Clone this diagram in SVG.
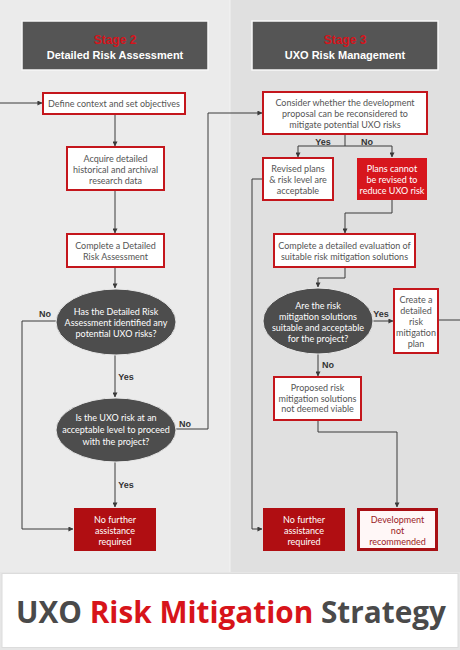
<svg xmlns="http://www.w3.org/2000/svg" width="460" height="650" viewBox="0 0 460 650">
<defs>
<marker id="ah" viewBox="0 0 6 6" refX="5.5" refY="3" markerWidth="5" markerHeight="5" orient="auto">
<path d="M0,0 L6,3 L0,6 z" fill="#3a3a3a"/>
</marker>
<style>
.bg1{fill:#ebebeb}
.bg2{fill:#e0e0e0}
.hdr{fill:#555555;stroke:#f7f7f7;stroke-width:1.5}
.stage{font-family:"Liberation Sans",Arial,sans-serif;font-weight:bold;font-size:12px;fill:#d4141c;text-anchor:middle}
.title{font-family:"Liberation Sans",Arial,sans-serif;font-weight:bold;font-size:11px;fill:#ffffff;text-anchor:middle}
.box{fill:#ffffff;stroke:#c4161c;stroke-width:2}
.boxr{fill:#d7161d}
.boxd{fill:#b00e12}
.boxdev{fill:#fff7f7;stroke:#a80f14;stroke-width:3}
.ell{fill:#4d4d4d;stroke:#e8e8e8;stroke-width:1}
.t{font-family:Lato,"Open Sans",sans-serif;font-size:9px;fill:#555555;text-anchor:middle}
.tw{font-family:Lato,"Open Sans",sans-serif;font-size:9px;fill:#ffffff;text-anchor:middle}
.tdr{font-family:Lato,"Open Sans",sans-serif;font-size:9px;fill:#9a1a1f;text-anchor:middle}
.lbl{font-family:"Liberation Sans",Arial,sans-serif;font-weight:bold;font-size:9px;fill:#333333;text-anchor:middle}
.c{fill:none;stroke:#3a3a3a;stroke-width:1}
.ca{fill:none;stroke:#3a3a3a;stroke-width:1;marker-end:url(#ah)}
.big{font-family:"Open Sans","Liberation Sans",sans-serif;font-weight:bold;font-size:30px}
</style>
</defs>

<rect x="0" y="0" width="230" height="572" class="bg1"/>
<rect x="230" y="0" width="230" height="572" class="bg2"/>
<line x1="230" y1="0" x2="230" y2="572" stroke="#f2f2f2" stroke-width="1"/>
<rect x="0" y="572" width="460" height="78" fill="#e6e6e6"/>
<rect x="2" y="573.5" width="456" height="74" fill="#ffffff" stroke="#dcdcdc" stroke-width="1"/>

<g id="header-stage2">
<rect x="22" y="21" width="186" height="49" class="hdr"/>
<text x="115" y="44" class="stage">Stage 2</text>
<text x="115" y="58.5" class="title">Detailed Risk Assessment</text>
</g>
<g id="header-stage3">
<rect x="252" y="21" width="186" height="49" class="hdr"/>
<text x="345" y="44" class="stage">Stage 3</text>
<text x="345" y="58.5" class="title">UXO Risk Management</text>
</g>

<g id="connectors">
<path d="M0,103 H42" class="ca"/>
<path d="M115,114 V146" class="ca"/>
<path d="M115,190 V233" class="ca"/>
<path d="M115,267 V288" class="ca"/>
<path d="M115,355 V397" class="ca"/>
<path d="M115,462 V507" class="ca"/>
<path d="M56,321 H22 V529 H73" class="ca"/>
<path d="M176,429 H208 V113 H262" class="ca"/>
<path d="M345,134 V146" class="c"/>
<path d="M298,146 H392" class="c"/>
<path d="M298,146 V157" class="ca"/>
<path d="M392,146 V157" class="ca"/>
<path d="M392,200 V213 H345 V233" class="ca"/>
<path d="M345,267 V278 H318 V287" class="ca"/>
<path d="M263,179 H252 V529 H262" class="ca"/>
<path d="M373,321 H393" class="ca"/>
<path d="M438,320 H460" class="c"/>
<path d="M318,354 V376" class="ca"/>
<path d="M318,420 V432 H397 V507" class="ca"/>
<text x="45" y="317" class="lbl">No</text>
<text x="126" y="380" class="lbl">Yes</text>
<text x="185" y="427" class="lbl">No</text>
<text x="126" y="488" class="lbl">Yes</text>
<text x="323" y="145" class="lbl">Yes</text>
<text x="367" y="145" class="lbl">No</text>
<text x="381" y="317" class="lbl">Yes</text>
<text x="328" y="368" class="lbl">No</text>
</g>

<g id="define">
<rect x="43" y="93" width="142" height="21" class="box"/>
<text x="114" y="106.5" class="t">Define context and set objectives</text>
</g>
<g id="acquire">
<rect x="67" y="147" width="97" height="43" class="box"/>
<text x="115.5" y="161.5" class="t">Acquire detailed</text>
<text x="115.5" y="172.5" class="t">historical and archival</text>
<text x="115.5" y="183.5" class="t">research data</text>
</g>
<g id="complete-dra">
<rect x="67" y="234" width="97" height="33" class="box"/>
<text x="115.5" y="249" class="t">Complete a Detailed</text>
<text x="115.5" y="260" class="t">Risk Assessment</text>
</g>
<g id="q-identified">
<ellipse cx="116" cy="322" rx="60" ry="33" class="ell"/>
<text x="116" y="315" class="tw">Has the Detailed Risk</text>
<text x="116" y="326" class="tw">Assessment identified any</text>
<text x="116" y="337" class="tw">potential UXO risks?</text>
</g>
<g id="q-acceptable">
<ellipse cx="116" cy="430" rx="60" ry="32" class="ell"/>
<text x="116" y="421" class="tw">Is the UXO risk at an</text>
<text x="116" y="433" class="tw">acceptable level to proceed</text>
<text x="116" y="445" class="tw">with the project?</text>
</g>
<g id="no-further-left">
<rect x="74" y="508" width="82" height="43" class="boxd"/>
<text x="115" y="523" class="tw">No further</text>
<text x="115" y="534" class="tw">assistance</text>
<text x="115" y="545" class="tw">required</text>
</g>

<g id="consider">
<rect x="263" y="92" width="164" height="42" class="box"/>
<text x="345" y="106" class="t">Consider whether the development</text>
<text x="345" y="117" class="t">proposal can be reconsidered to</text>
<text x="345" y="128" class="t">mitigate potential UXO risks</text>
</g>
<g id="revised">
<rect x="263" y="158" width="70" height="42" class="box"/>
<text x="298" y="172" class="t">Revised plans</text>
<text x="298" y="183" class="t">&amp; risk level are</text>
<text x="298" y="194" class="t">acceptable</text>
</g>
<g id="cannot">
<rect x="357" y="158" width="70" height="42" class="boxr"/>
<text x="392" y="172" class="tw">Plans cannot</text>
<text x="392" y="183" class="tw">be revised to</text>
<text x="392" y="194" class="tw">reduce UXO risk</text>
</g>
<g id="evaluation">
<rect x="274" y="234" width="141" height="33" class="box"/>
<text x="344.5" y="249" class="t">Complete a detailed evaluation of</text>
<text x="344.5" y="260" class="t">suitable risk mitigation solutions</text>
</g>
<g id="q-suitable">
<ellipse cx="318" cy="321" rx="55" ry="33" class="ell"/>
<text x="318" y="309" class="tw">Are the risk</text>
<text x="318" y="320" class="tw">mitigation solutions</text>
<text x="318" y="331" class="tw">suitable and acceptable</text>
<text x="318" y="342" class="tw">for the project?</text>
</g>
<g id="create-plan">
<rect x="394" y="289" width="44" height="64" class="box"/>
<text x="416" y="303" class="t">Create a</text>
<text x="416" y="314" class="t">detailed</text>
<text x="416" y="325" class="t">risk</text>
<text x="416" y="336" class="t">mitigation</text>
<text x="416" y="347" class="t">plan</text>
</g>
<g id="not-viable">
<rect x="274" y="377" width="87" height="43" class="box"/>
<text x="317.5" y="391" class="t">Proposed risk</text>
<text x="317.5" y="401.5" class="t">mitigation solutions</text>
<text x="317.5" y="412" class="t">not deemed viable</text>
</g>
<g id="no-further-right">
<rect x="263" y="508" width="82" height="43" class="boxd"/>
<text x="304" y="523" class="tw">No further</text>
<text x="304" y="534" class="tw">assistance</text>
<text x="304" y="545" class="tw">required</text>
</g>
<g id="not-recommended">
<rect x="358.5" y="509.5" width="78" height="40" class="boxdev"/>
<text x="397.5" y="523" class="tdr">Development</text>
<text x="397.5" y="534" class="tdr">not</text>
<text x="397.5" y="545" class="tdr">recommended</text>
</g>

<g id="banner-title">
<text x="16" y="623" class="big" textLength="430" lengthAdjust="spacingAndGlyphs"><tspan fill="#4a4a4a">UXO </tspan><tspan fill="#d7141a">Risk Mitigation </tspan><tspan fill="#4a4a4a">Strategy</tspan></text>
</g>
</svg>
